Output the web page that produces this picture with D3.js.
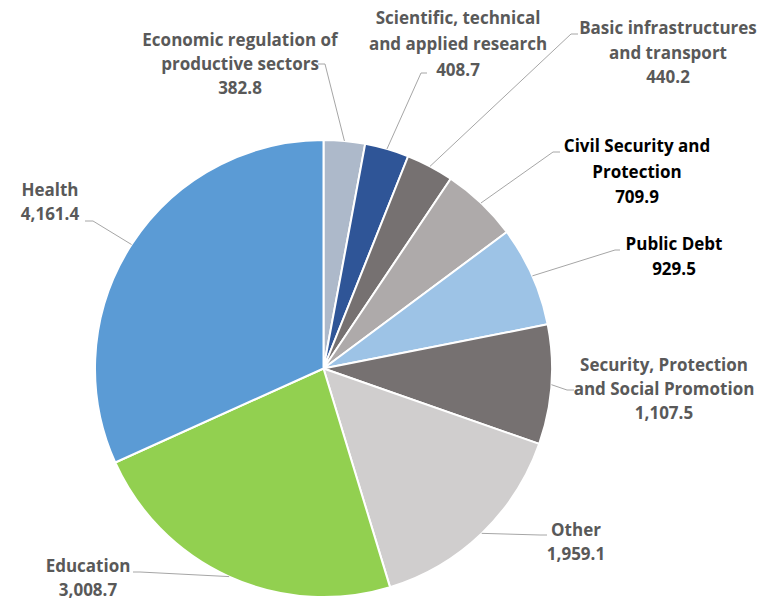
<!DOCTYPE html>
<html><head><meta charset="utf-8">
<script src="https://cdn.jsdelivr.net/npm/d3@7"></script>
<style>body{margin:0;background:#fff}svg{display:block}</style>
</head><body>
<svg id="c" width="777" height="601"></svg>
<script>
const categories = ["Economic regulation of productive sectors","Scientific, technical and applied research","Basic infrastructures and transport","Civil Security and Protection","Public Debt","Security, Protection and Social Promotion","Other","Education","Health"];
const values = [382.8, 408.7, 440.2, 709.9, 929.5, 1107.5, 1959.1, 3008.7, 4161.4];
const valueLabels = ["382.8","408.7","440.2","709.9","929.5","1,107.5","1,959.1","3,008.7","4,161.4"];
const colors = ["#adb9ca","#2f5597","#767171","#aeaaaa","#9dc3e6","#767171","#d0cece","#92d050","#5b9bd5"];

// label layout: text lines, centre x, baselines, elbow point, tick end
const labelLines = [
  ["Economic regulation of","productive sectors"],
  ["Scientific, technical","and applied research"],
  ["Basic infrastructures","and transport"],
  ["Civil Security and","Protection"],
  ["Public Debt"],
  ["Security, Protection","and Social Promotion"],
  ["Other"],
  ["Education"],
  ["Health"]
];
const labelLayout = [
  {x:240, y:46, dy:24, c:"#595959", elbow:[325,64], tick:[318,64]},
  {x:458, y:24, dy:26, c:"#595959", elbow:[421,73], tick:[427,73]},
  {x:668, y:34, dy:24.5, c:"#595959", elbow:[571,34], tick:[578,34]},
  {x:637, y:152, dy:25.5, c:"#000000", elbow:[553,152], tick:[560,152]},
  {x:674, y:250, dy:24.5, c:"#000000", elbow:[615,250], tick:[620,250]},
  {x:664, y:371, dy:24, c:"#595959", elbow:[567,390], tick:[574,390]},
  {x:576, y:536, dy:24, c:"#595959", elbow:[540,535], tick:[547,535]},
  {x:88, y:572, dy:24, c:"#595959", elbow:[140,572], tick:[133,572]},
  {x:50, y:196, dy:24, c:"#595959", elbow:[93,221], tick:[85,221]}
];

const svg = d3.select("#c");
const cx = 323.5, cy = 368.5, r = 228.5;
const g = svg.append("g").attr("transform", `translate(${cx},${cy})`);
const pie = d3.pie().sort(null).value(d => d)(values);
const arc = d3.arc().innerRadius(0).outerRadius(r);
g.selectAll("path.s").data(pie).join("path").attr("class","s")
  .attr("d", arc).attr("fill", (d,i) => colors[i])
  .attr("stroke", "#fff").attr("stroke-width", 2).attr("stroke-linejoin","round");

const edge = d3.arc().innerRadius(r).outerRadius(r);
pie.forEach((d,i) => {
  const L = labelLayout[i];
  const p = edge.centroid(d);
  const pts = [[p[0]+cx, p[1]+cy], L.elbow, L.tick];
  svg.append("polyline").attr("points", pts.map(q => q.join(",")).join(" "))
    .attr("fill","none").attr("stroke","#a6a6a6").attr("stroke-width",1);
  const lines = labelLines[i].concat([valueLabels[i]]);
  const t = svg.append("text").attr("text-anchor","middle")
    .attr("font-family","'Open Sans', sans-serif").attr("font-weight","bold")
    .attr("font-size",17).attr("fill",L.c);
  lines.forEach((s,j) => t.append("tspan").attr("x",L.x).attr("y",L.y + j*L.dy).text(s));
});
</script>
</body></html>
